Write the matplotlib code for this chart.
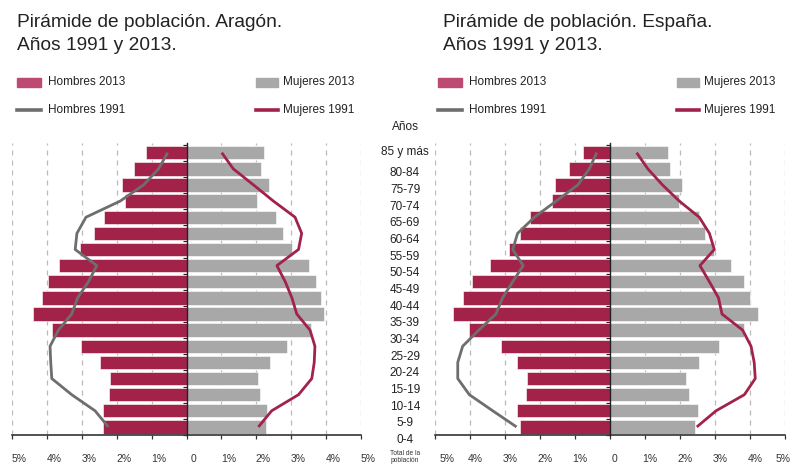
import matplotlib
matplotlib.use("Agg")
import matplotlib.pyplot as plt
import numpy as np
from matplotlib.transforms import ScaledTranslation

plt.rcParams['font.family'] = ['Liberation Sans', 'DejaVu Sans']

ages = ["0-4", "5-9", "10-14", "15-19", "20-24", "25-29", "30-34", "35-39", "40-44",
        "45-49", "50-54", "55-59", "60-64", "65-69", "70-74", "75-79", "80-84", "85 y más"]

# Aragón (values listed from 0-4 up to 85+)
ar_men_2013 = [2.39, 2.39, 2.23, 2.18, 2.48, 3.03, 3.86, 4.39, 4.14,
               3.97, 3.65, 3.06, 2.65, 2.35, 1.76, 1.85, 1.49, 1.15]
ar_women_2013 = [2.27, 2.30, 2.10, 2.06, 2.40, 2.87, 3.56, 3.94, 3.85,
                 3.71, 3.51, 3.03, 2.76, 2.57, 2.01, 2.35, 2.14, 2.22]
ar_men_1991 = [2.24, 2.62, 3.29, 3.86, 3.89, 3.91, 3.67, 3.29, 3.12,
               2.81, 2.57, 3.19, 3.14, 2.88, 1.90, 1.23, 0.80, 0.54]
ar_women_1991 = [2.06, 2.44, 3.21, 3.59, 3.66, 3.68, 3.54, 3.16, 3.02,
                 2.83, 2.59, 3.21, 3.30, 3.11, 2.49, 1.92, 1.34, 1.01]

# España
es_men_2013 = [2.57, 2.67, 2.40, 2.36, 2.66, 3.11, 4.02, 4.50, 4.19,
               3.94, 3.44, 2.90, 2.57, 2.28, 1.66, 1.56, 1.16, 0.78]
es_women_2013 = [2.44, 2.50, 2.27, 2.17, 2.55, 3.10, 3.84, 4.22, 4.01,
                 3.84, 3.46, 2.98, 2.71, 2.55, 1.96, 2.06, 1.71, 1.67]
es_men_1991 = [2.67, 3.35, 4.02, 4.35, 4.35, 4.21, 3.75, 3.26, 3.07,
               2.78, 2.48, 2.78, 2.64, 2.16, 1.54, 0.92, 0.59, 0.38]
es_women_1991 = [2.48, 3.03, 3.84, 4.15, 4.12, 4.03, 3.79, 3.20, 3.10,
                 2.84, 2.57, 2.98, 2.84, 2.55, 1.98, 1.50, 1.08, 0.76]

xticks = [-5, -4, -3, -2, -1, 0, 1, 2, 3, 4, 5]
xticklabels = ["5%", "4%", "3%", "2%", "1%", "0", "1%", "2%", "3%", "4%", "5%"]

titles = ["Pirámide de población. Aragón.\nAños 1991 y 2013.",
          "Pirámide de población. España.\nAños 1991 y 2013."]

CRIMSON = "#A3224A"
LEG_CRIMSON = "#BC4A72"
GRAYBAR = "#A8A8A8"
GRAYLINE = "#6E6E6E"

W, H = 792, 469
fig = plt.figure(figsize=(W / 100, H / 100), dpi=100)

def fx(px):
    return px / W

def fy(py):
    return 1 - py / H

ax_bottom = fy(435)
ax_top = fy(143)
panels = [
    dict(left=12, right=361, men=ar_men_2013, women=ar_women_2013,
         m91=ar_men_1991, w91=ar_women_1991, title=titles[0], tx=17, leg=(17, 256), off=7),
    dict(left=435, right=785, men=es_men_2013, women=es_women_2013,
         m91=es_men_1991, w91=es_women_1991, title=titles[1], tx=443, leg=(438, 677), off=5),
]

y = np.arange(len(ages))
for p in panels:
    ax = fig.add_axes([fx(p['left']), ax_bottom, fx(p['right'] - p['left']), ax_top - ax_bottom])
    ax.set_xlim(-5, 5)
    ax.set_ylim(-0.37, 17.6)
    ax.barh(y, -np.array(p['men']), height=0.83, color=CRIMSON, edgecolor='white', linewidth=0.4, zorder=2)
    ax.barh(y, np.array(p['women']), height=0.83, color=GRAYBAR, edgecolor='white', linewidth=0.4, zorder=2)
    ax.plot(-np.array(p['m91']), y, color=GRAYLINE, lw=2.0, zorder=3, solid_capstyle='butt')
    ax.plot(np.array(p['w91']), y, color=CRIMSON, lw=2.0, zorder=3, solid_capstyle='butt')
    for g in [-5, -4, -3, -2, -1, 1, 2, 3, 4, 5]:
        ax.axvline(g, color='#BBBBBB', lw=0.9, ls=(0, (4, 4)), zorder=1)
    for s in ['top', 'right']:
        ax.spines[s].set_visible(False)
    ax.spines['left'].set_position(('data', 0))
    ax.spines['left'].set_color('#222222')
    ax.spines['left'].set_linewidth(1.0)
    ax.spines['left'].set_zorder(4)
    ax.spines['bottom'].set_color('#333333')
    ax.spines['bottom'].set_linewidth(1.2)
    ax.set_yticks(np.arange(-0.5, len(ages) + 0.5, 1.0))
    ax.set_yticklabels([])
    ax.tick_params(axis='y', length=3, width=0.9, color='#222222', direction='out')
    ax.set_xticks(xticks)
    ax.set_xticklabels(xticklabels, fontsize=7.5, color='#333333')
    ax.tick_params(axis='x', length=3, width=0.9, color='#333333', pad=11)
    labs = ax.get_xticklabels()
    for i, lab in enumerate(labs):
        o = p['off']
        if i == 0 and p['left'] > 400:
            o = 12
        lab.set_transform(lab.get_transform() + ScaledTranslation(o / 100, 0, fig.dpi_scale_trans))
    if p['left'] > 400:
        labs[-1].set_horizontalalignment('right')
        labs[-1].set_transform(labs[-1].get_transform() + ScaledTranslation(1 / 100, 0, fig.dpi_scale_trans))
    ax.set_facecolor('none')

    fig.text(fx(p['tx']), fy(34), p['title'], fontsize=13.8, color='#222222',
             va='center', ha='left', linespacing=1.4)
    lx1, lx2 = p['leg']
    fig.patches.append(plt.Rectangle((fx(lx1), fy(87)), fx(24), fy(78) - fy(87),
                                     transform=fig.transFigure, color=LEG_CRIMSON))
    fig.patches.append(plt.Rectangle((fx(lx2), fy(87)), fx(22), fy(78) - fy(87),
                                     transform=fig.transFigure, color=GRAYBAR))
    fig.lines.append(plt.Line2D([fx(lx1), fx(lx1 + 24)], [fy(110), fy(110)],
                                transform=fig.transFigure, color=GRAYLINE, lw=2.6))
    fig.lines.append(plt.Line2D([fx(lx2), fx(lx2 + 22)], [fy(110), fy(110)],
                                transform=fig.transFigure, color=CRIMSON, lw=2.6))
    fig.text(fx(lx1 + 31), fy(82), "Hombres 2013", fontsize=8.5, va='center', color='#222222')
    fig.text(fx(lx2 + 27), fy(82), "Mujeres 2013", fontsize=8.5, va='center', color='#222222')
    fig.text(fx(lx1 + 31), fy(110), "Hombres 1991", fontsize=8.5, va='center', color='#222222')
    fig.text(fx(lx2 + 27), fy(110), "Mujeres 1991", fontsize=8.5, va='center', color='#222222')

# Age labels in the middle
fig.text(fx(405), fy(127), "Años", fontsize=8.5, ha='center', va='center', color='#222222')
label_y = list(np.linspace(440, 173.3, len(ages) - 1)) + [151.7]
for lab, py in zip(ages, label_y):
    fig.text(fx(405), fy(py), lab, fontsize=8.5, ha='center', va='center', color='#222222')
fig.text(fx(405), fy(457), "Total de la\npoblación", fontsize=4.8, ha='center', va='center',
         color='#333333', linespacing=1.0)

fig.savefig("out.png", dpi=100)
